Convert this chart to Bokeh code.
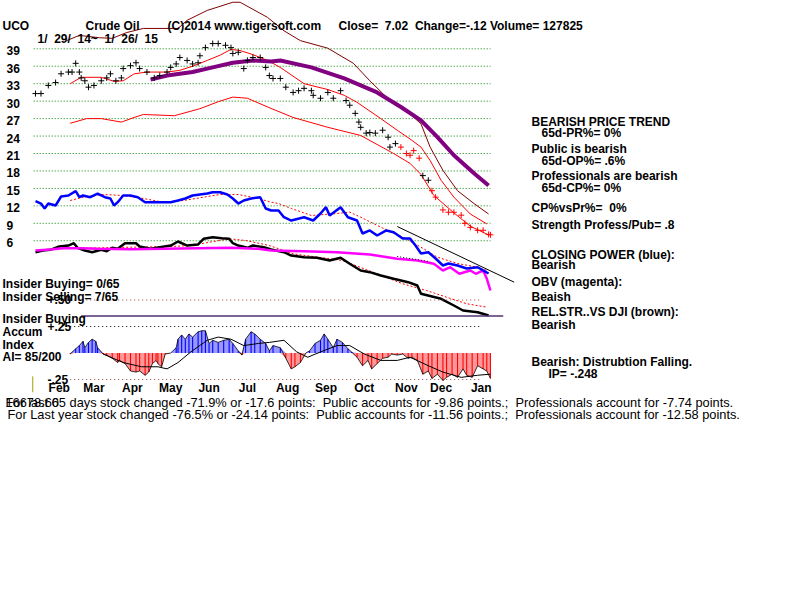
import numpy as np
from bokeh.plotting import figure
from bokeh.models import Range1d, Label, LabelSet, ColumnDataSource
from bokeh.embed import file_html
from bokeh.resources import INLINE
from bokeh.core.properties import value

# ---------------- data (trading-day index 0 = 1/29/14 ... 249 = 1/26/15) ----------------
price_ticks = [39, 36, 33, 30, 27, 24, 21, 18, 15, 12, 9, 6]
ai_ticks = [0.50, 0.25, -0.25]
ai_tick_labels = ["+.50", "+.25", "-.25"]
months = ["Feb", "Mar", "Apr", "May", "Jun", "Jul", "Aug", "Sep", "Oct", "Nov", "Dec", "Jan"]
month_start_day = [3, 22, 43, 64, 85, 106, 128, 149, 170, 193, 212, 234]

price_day = [0, 3, 7, 11, 14, 18, 20, 22, 24, 25, 27, 29, 32, 36, 39, 41, 44, 47, 48, 52,
             55, 57, 61, 65, 68, 72, 74, 77, 79, 83, 86, 89, 90, 93, 97, 100, 104, 107, 108, 111,
             114, 116, 119, 123, 126, 128, 130, 134, 137, 141, 144, 147, 151, 152, 156, 160, 163, 167, 170, 172,
             175, 177, 178, 181, 183, 186, 190, 193, 194, 197, 200, 203, 205, 207, 210, 212, 215, 217, 219, 223,
             226, 229, 233, 235, 238, 242, 245, 248, 249]
price_close = [31.3, 31.3, 32.7, 33.2, 34.7, 35.0, 35.0, 36.5, 35.0, 34.0, 33.5, 32.4, 32.7, 33.5, 34.0, 34.7, 33.5, 34.0, 35.6, 36.1,
               36.6, 35.6, 35.0, 34.0, 34.4, 35.0, 35.8, 36.4, 37.5, 37.0, 36.4, 36.6, 37.8, 39.2, 39.9, 39.9, 39.6, 39.2, 38.2, 38.4,
               35.6, 37.0, 37.5, 37.5, 35.8, 34.4, 33.9, 33.9, 32.4, 31.5, 31.8, 32.2, 31.8, 31.0, 30.5, 31.5, 30.5, 31.8, 30.1, 29.3,
               27.9, 26.4, 25.5, 24.5, 24.6, 24.5, 25.0, 23.8, 22.1, 22.7, 22.1, 21.0, 20.7, 21.5, 20.2, 17.2, 16.4, 14.6, 13.5, 11.3,
               10.9, 10.9, 10.4, 9.0, 8.3, 7.8, 7.8, 7.1, 7.02]
red_runs = [(200, 210), (216, 249)]

upper_day = [17, 24, 35, 42, 50, 59, 78, 83, 94, 108, 112, 127, 136, 145, 160, 174, 183, 194, 205, 211, 216, 223, 231, 240, 248]
upper_val = [40.4, 41.3, 40.9, 40.8, 41.8, 42.5, 42.5, 43.9, 45.6, 47.0, 47.0, 44.4, 42.1, 40.4, 39.1, 36.5, 33.5, 30.1, 27.8, 26.1,
             22.1, 18.1, 14.6, 12.4, 10.6]
ma_day = [19, 25, 36, 43, 48, 54, 61, 72, 79, 86, 94, 101, 107, 112, 119, 127, 134, 147, 160, 169, 176, 189, 198, 205, 211,
          216, 222, 229, 238, 247]
ma_val = [33.0, 34.1, 34.1, 33.4, 33.5, 34.7, 35.0, 35.0, 35.3, 36.0, 37.0, 37.9, 38.9, 38.7, 38.0, 37.0, 35.8, 33.0, 32.0, 31.0,
          29.8, 27.0, 25.0, 23.5, 22.1, 19.8, 16.4, 13.5, 10.6, 8.9]
lower_day = [19, 28, 36, 47, 54, 59, 76, 90, 100, 108, 116, 127, 141, 160, 178, 196, 205, 211, 218, 229, 238, 248]
lower_val = [26.2, 27.0, 27.0, 26.4, 27.2, 27.7, 27.5, 28.7, 29.9, 30.7, 30.5, 29.0, 27.2, 25.5, 24.1, 21.0, 19.3, 17.4,
             13.8, 10.8, 8.5, 7.0]
purple_day = [63, 72, 86, 97, 108, 119, 129, 134, 151, 169, 187, 200, 211, 220, 229, 240, 248]
purple_val = [33.7, 34.4, 35.0, 35.8, 36.6, 37.0, 36.8, 37.0, 35.8, 33.9, 31.5, 29.0, 26.7, 23.8, 20.7, 17.6, 15.5]

cp_day = [0, 3, 5, 7, 11, 14, 18, 22, 24, 26, 30, 34, 38, 41, 43, 45, 48, 52, 56, 60, 65, 70, 74, 78, 82, 86, 90, 94,
          97, 101, 105, 108, 111, 114, 118, 123, 126, 129, 133, 136, 140, 147, 152, 156, 159, 161, 167, 171, 176, 179,
          183, 187, 192, 196, 201, 205, 208, 211, 215, 219, 223, 226, 231, 236, 242, 248]
cp_val = [12.8, 12.4, 11.55, 12.4, 12.06, 13.61, 13.78, 14.52, 13.49, 13.78, 13.49, 14.12, 13.49, 13.26, 12.06, 12.63,
          13.78, 13.78, 13.49, 12.63, 12.63, 12.63, 12.63, 12.92, 13.26, 13.78, 13.95, 14.12, 14.35, 14.35, 13.95, 13.26,
          12.40, 12.92, 13.26, 13.49, 11.55, 11.20, 11.20, 10.05, 9.48, 10.05, 9.48, 10.69, 11.77, 10.34, 11.77, 10.05,
          9.48, 7.25, 7.77, 6.90, 7.77, 7.47, 6.39, 6.39, 5.19, 3.81, 4.03, 2.95, 1.75, 2.09, 1.75, 1.23, 1.45, 0.37]
cp_ma_day = [19, 26, 37, 48, 59, 70, 81, 92, 101, 111, 122, 129, 133, 140, 151, 165, 172, 178, 189, 201, 211, 220, 231, 242, 247]
cp_ma_val = [12.92, 13.49, 13.95, 13.78, 13.26, 12.63, 12.92, 13.49, 13.95, 13.95, 13.26, 12.63, 12.40, 11.55, 10.34, 10.69,
             10.92, 10.05, 8.33, 6.61, 4.89, 3.17, 2.09, 1.45, 0.89]
cp_trend_day = [198, 262]
cp_trend_val = [8.45, -1.12]

rs_day = [0, 4, 8, 13, 18, 21, 23, 27, 31, 36, 39, 42, 45, 49, 55, 57, 63, 68, 74, 78, 83, 89, 92, 97, 102, 106, 108, 111,
          116, 119, 125, 129, 136, 140, 147, 154, 161, 167, 172, 178, 183, 189, 196, 204, 209, 211, 222, 229, 234, 242, 248]
rs_val = [4.03, 4.32, 4.44, 5.01, 5.18, 5.58, 4.79, 4.32, 4.03, 4.44, 4.21, 4.79, 4.62, 5.58, 5.58, 5.01, 4.62, 4.89, 5.18,
          5.87, 5.18, 5.36, 6.34, 6.61, 6.44, 6.34, 5.58, 5.18, 4.79, 5.18, 4.89, 4.5, 4.03, 3.46, 3.17, 3.07, 2.61, 3.07,
          2.04, 0.89, 0.60, 0.03, -0.54, -1.12, -1.69, -3.12, -3.98, -5.13, -5.99, -6.28, -6.85]
rs_ma_day = [19, 52, 74, 85, 106, 115, 128, 141, 168, 187, 201, 214, 225, 236, 247]
rs_ma_val = [4.67, 4.89, 5.01, 5.18, 6.34, 6.05, 5.18, 3.76, 2.61, 0.32, -1.40, -2.55, -3.70, -4.83, -5.42]

obv_day = [0, 8, 15, 25, 34, 52, 70, 89, 107, 122, 129, 147, 165, 183, 198, 209, 218, 223, 227, 232, 238, 241, 245, 247, 249]
obv_val = [4.32, 4.50, 4.72, 4.72, 4.62, 4.55, 4.62, 4.72, 4.79, 4.62, 4.32, 4.21, 4.03, 3.64, 2.90, 2.61, 2.04, 0.89,
           1.45, 0.32, 0.89, 0.32, 0.89, -0.5, -2.55]
obv_trend_day = [198, 216]
obv_trend_val = [3.3, 2.4]

ai_day = [19, 22, 24, 26, 27, 29, 31, 33, 34, 37, 39, 42, 45, 46, 49, 52, 55, 57, 60, 62, 64, 66, 67, 69, 71, 74, 77, 78,
          80, 82, 84, 86, 89, 91, 93, 95, 97, 100, 103, 106, 108, 111, 113, 115, 118, 120, 123, 126, 128, 130, 134, 137,
          140, 142, 145, 148, 150, 153, 156, 158, 160, 163, 165, 168, 171, 173, 176, 179, 182, 184, 187, 190, 193, 195,
          198, 201, 204, 206, 209, 212, 215, 217, 220, 223, 225, 228, 231, 234, 236, 239, 242, 245, 247, 249]
ai_val = [-0.01, 0.04, 0.07, 0.11, 0.05, 0.10, 0.13, 0.11, 0.05, -0.01, -0.02, -0.05, -0.09, -0.07, -0.10, -0.17, -0.18,
          -0.17, -0.21, -0.18, -0.10, -0.07, -0.10, -0.13, -0.01, 0.00, 0.05, 0.13, 0.17, 0.13, 0.18, 0.15, 0.20, 0.21,
          0.21, 0.09, 0.12, 0.10, 0.12, 0.13, 0.09, 0.02, -0.02, 0.13, 0.20, 0.18, 0.13, 0.09, 0.02, 0.07, 0.05, -0.05,
          -0.15, -0.13, -0.09, 0.00, 0.02, 0.09, 0.12, 0.18, 0.13, 0.05, 0.13, 0.10, 0.04, 0.01, -0.04, -0.12, -0.07,
          -0.15, -0.10, -0.05, -0.04, -0.01, -0.02, -0.01, -0.05, -0.04, -0.07, -0.20, -0.17, -0.24, -0.20, -0.26, -0.23,
          -0.20, -0.23, -0.15, -0.21, -0.23, -0.12, -0.15, -0.17, -0.24]
ai_ma_day = [37, 48, 58, 67, 72, 78, 85, 94, 100, 107, 114, 122, 128, 136, 143, 149, 156, 165, 172, 180, 189, 198, 205,
             215, 223, 233, 242, 249]
ai_ma_val = [-0.01, -0.09, -0.13, -0.13, -0.15, -0.09, 0.01, 0.12, 0.15, 0.13, 0.07, 0.09, 0.10, 0.12, 0.01, -0.04, 0.01,
             0.07, 0.07, -0.01, -0.07, -0.07, -0.04, -0.12, -0.18, -0.23, -0.21, -0.20]
insider_level = 0.35

# ---------------- figure: one canvas, price scale + AI scale ----------------
FONT = "Liberation Sans"
NB = "\u00a0"
p = figure(width=800, height=600, output_backend="svg", toolbar_location=None,
           x_range=Range1d(-19.157, 418.72), y_range=Range1d(-55.843, 47.303),
           x_axis_location=None, y_axis_location=None, min_border=0,
           outline_line_color=None, background_fill_color="white", border_fill_color="white")
p.extra_y_ranges = {"ai": Range1d(-2.335, 3.3255)}
p.grid.visible = False

# price grid
p.segment(x0=-1, x1=249, y0=price_ticks, y1=price_ticks, line_color="#008000", line_width=1, line_dash="1 2")

# moving averages / bands
p.line(upper_day, upper_val, line_color="#800000", line_width=1)
p.line(ma_day, ma_val, line_color="#ff0000", line_width=1)
p.line(lower_day, lower_val, line_color="#ff0000", line_width=1)
p.line(purple_day, purple_val, line_color="#800080", line_width=4)

# price bars
pd_arr = np.array(price_day)
is_red = np.zeros(len(pd_arr), dtype=bool)
for a, b in red_runs:
    is_red |= (pd_arr >= a) & (pd_arr <= b)
colors = np.where(is_red, "#ff0000", "#000000")
p.scatter(price_day, price_close, marker="cross", size=6, line_color=list(colors), line_width=1)

# indicators
p.line(cp_ma_day, cp_ma_val, line_color="#ff0000", line_width=1, line_dash="2 2")
p.line(rs_ma_day, rs_ma_val, line_color="#ff0000", line_width=1, line_dash="2 2")
p.line(rs_day, rs_val, line_color="#000000", line_width=2.5)
p.line(obv_day, obv_val, line_color="#ff00ff", line_width=2.5)
p.line(cp_day, cp_val, line_color="#0000ff", line_width=2.5)
p.line(cp_trend_day, cp_trend_val, line_color="#000000", line_width=1)
p.line(obv_trend_day, obv_trend_val, line_color="#000000", line_width=1, line_dash="1 2")

# AI panel
p.segment(x0=19, x1=243, y0=[0.5, -0.25], y1=[0.5, -0.25], line_color="#a04040", line_dash="1 3", y_range_name="ai")
p.segment(x0=19, x1=243, y0=[0.25], y1=[0.25], line_color="#000000", line_dash="1 3", y_range_name="ai")
p.segment(x0=[25], x1=[256], y0=[insider_level], y1=[insider_level], line_color="#503070", line_width=1.5, y_range_name="ai")
ai_arr = np.array(ai_val)
ai_pos = np.maximum(ai_arr, 0)
ai_neg = np.minimum(ai_arr, 0)
p.varea(x=ai_day, y1=0, y2=ai_pos, fill_color="#0000ff", fill_alpha=0.4, y_range_name="ai")
p.varea(x=ai_day, y1=ai_neg, y2=0, fill_color="#ff0000", fill_alpha=0.4, y_range_name="ai")
p.vbar(x=ai_day, bottom=0, top=ai_pos, width=0.6, fill_color="#0000ff", line_color=None, y_range_name="ai")
p.vbar(x=ai_day, bottom=ai_neg, top=0, width=0.6, fill_color="#ff0000", line_color=None, y_range_name="ai")
p.line(ai_day, ai_val, line_color="#000000", line_width=0.8, y_range_name="ai")
p.line(ai_ma_day, ai_ma_val, line_color="#000000", line_width=1, y_range_name="ai")
p.segment(x0=[-1.5], x1=[-1.5], y0=[-0.22], y1=[-0.37], line_color="#a0a000", line_width=1, y_range_name="ai")

# tick labels
p.add_layout(LabelSet(x="x", y="y", text="t", x_units="screen", y_units="data",
                      source=ColumnDataSource(dict(x=[6] * len(price_ticks), y=price_ticks,
                                                   t=[str(v) for v in price_ticks])),
                      text_font=value(FONT), text_font_style="bold", text_font_size="12px",
                      text_baseline="middle", text_align="left", text_color="black", y_offset=-2))
p.add_layout(LabelSet(x="x", y="y", text="t", x_units="screen", y_units="data", y_range_name="ai",
                      source=ColumnDataSource(dict(x=[47] * 3, y=ai_ticks, t=ai_tick_labels)),
                      text_font=value(FONT), text_font_style="bold", text_font_size="12px",
                      text_baseline="middle", text_align="left", text_color="black"))
p.add_layout(LabelSet(x="x", y="y", text="t", x_units="data", y_units="screen",
                      source=ColumnDataSource(dict(x=[d + 10 for d in month_start_day], y=[600 - 391] * 12, t=months)),
                      text_font=value(FONT), text_font_style="bold", text_font_size="12px",
                      text_baseline="alphabetic", text_align="center", text_color="black"))

def lab(x, ytop, text, bold=True, size="12px"):
    p.add_layout(Label(x=x, y=600 - ytop, x_units="screen", y_units="screen", text=text.replace("  ", NB + NB),
                       text_font=FONT, text_font_style="bold" if bold else "normal",
                       text_font_size=size, text_baseline="alphabetic", text_color="black"))

lab(2, 25, "UCO")
lab(85, 25, "Crude Oil")
lab(167, 25, "(C)2014 www.tigersoft.com")
lab(338, 25, "Close=  7.02  Change=-.12 Volume= 127825")
lab(37, 38, "1/  29/  14~  1/  26/  15")

lab(531, 121, "BEARISH PRICE TREND")
lab(541, 132, "65d-PR%= 0%")
lab(531, 148, "Public is bearish")
lab(541, 160, "65d-OP%= .6%")
lab(531, 175, "Professionals are bearish")
lab(541, 187, "65d-CP%= 0%")
lab(531, 207, "CP%vsPr%=  0%")
lab(531, 224, "Strength Profess/Pub= .8")
lab(531, 254, "CLOSING POWER (blue):")
lab(531, 264, "Bearish")
lab(531, 281, "OBV (magenta):")
lab(531, 296, "Beaish")
lab(531, 311, "REL.STR..VS DJI (brown):")
lab(531, 324, "Bearish")
lab(531, 361, "Bearish: Distrubtion Falling.")
lab(548, 373, "IP= -.248")

lab(2, 283, "Insider Buying= 0/65")
lab(2, 296, "Insider Selling= 7/65")
lab(2, 318, "Insider Buying")
lab(2, 331, "Accum")
lab(2, 344, "Index")
lab(2, 356, "AI= 85/200")

lab(5, 402, "16678.60", bold=False, size="12.8px")
lab(5, 402, "For last 65 days stock changed -71.9% or -17.6 points:  Public accounts for -9.86 points.;  Professionals account for -7.74 points.", bold=False, size="12.8px")
lab(7, 414, "For Last year stock changed -76.5% or -24.14 points:  Public accounts for -11.56 points.;  Professionals account for -12.58 points.", bold=False, size="12.8px")

open("out.html", "w").write(file_html(p, INLINE))
